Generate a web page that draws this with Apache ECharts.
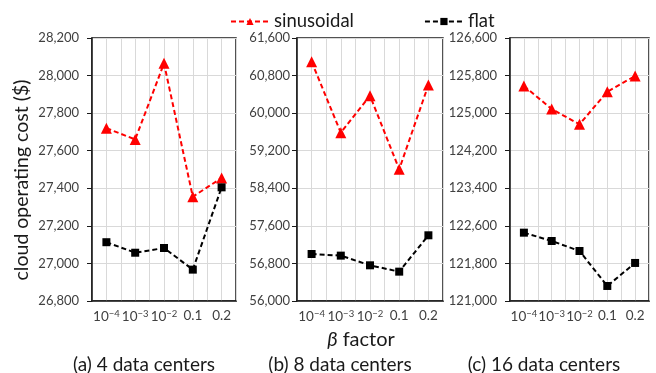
<!DOCTYPE html>
<html><head><meta charset="utf-8">
<script src="https://cdn.jsdelivr.net/npm/echarts@6/dist/echarts.min.js"></script>
<style>html,body{margin:0;padding:0;background:#fff}#c{width:656px;height:373px}</style>
</head><body><div id="c"></div>
<script>
// ---- data ----
const betaLabels = ['10^-4', '10^-3', '10^-2', '0.1', '0.2'];
const seriesNames = ['sinusoidal', 'flat'];
const panelTitles = ['(a) 4 data centers', '(b) 8 data centers', '(c) 16 data centers'];
const sinusoidal4 = [27720, 27660, 28065, 27355, 27455];
const flat4 = [27113, 27057, 27082, 26967, 27405];
const sinusoidal8 = [61096, 59584, 60372, 58804, 60600];
const flat8 = [57001, 56966, 56760, 56625, 57399];
const sinusoidal16 = [125578, 125088, 124762, 125457, 125791];
const flat16 = [122455, 122278, 122065, 121320, 121810];
const yMin = [26800, 56000, 121000];
const yMax = [28200, 61600, 126600];
const yStep = [200, 800, 800];
const yAxisTitle = 'cloud operating cost ($)';
const xAxisTitle = 'factor';

// ---- layout ----
const FONT = 'Lato';
const grids = [
  {left: 92, top: 38, width: 144, height: 263},
  {left: 297, top: 38, width: 146, height: 263},
  {left: 510, top: 38, width: 139, height: 263}
];
const labelMargins = [13, 7, 13];
const titleCenters = [144, 340, 544];
const sinData = [sinusoidal4, sinusoidal8, sinusoidal16];
const flatData = [flat4, flat8, flat16];

function fmtBeta(v) {
  if (v % 2 !== 1) return '';
  const s = betaLabels[(v - 1) / 2];
  if (s.indexOf('^') >= 0) {
    const p = s.split('^');
    return p[0] + '{s|' + p[1].replace('-', '\u2212') + '}';
  }
  return s;
}
const toXY = arr => arr.map((v, i) => [2 * i + 1, v]);

const xAxes = [], yAxes = [], series = [];
grids.forEach((g, k) => {
  g.show = true; g.borderColor = '#1a1a1a'; g.borderWidth = 1.5; g.containLabel = false;
  xAxes.push({
    type: 'value', gridIndex: k, min: 0, max: 10, interval: 1,
    axisLine: {show: true, onZero: false, lineStyle: {color: '#1a1a1a', width: 1.5}},
    axisTick: {show: false},
    splitLine: {show: true, lineStyle: {color: '#d9d9d9', width: 1}},
    axisLabel: {
      formatter: fmtBeta, margin: 8, color: '#404040', fontFamily: FONT, fontSize: 13.5,
      rich: {s: {fontSize: 9.5, fontFamily: FONT, color: '#404040', padding: [0, 0, 6, 0]}}
    }
  });
  yAxes.push({
    type: 'value', gridIndex: k, min: yMin[k], max: yMax[k], interval: yStep[k],
    axisLine: {show: true, lineStyle: {color: '#1a1a1a', width: 1.5}},
    axisTick: {show: true, length: 5, lineStyle: {color: '#1a1a1a', width: 1}},
    splitLine: {show: true, lineStyle: {color: '#d9d9d9', width: 1}},
    axisLabel: {
      margin: labelMargins[k], color: '#404040', fontFamily: FONT, fontSize: 13,
      formatter: v => v.toLocaleString('en-US')
    }
  });
  series.push({
    name: seriesNames[0], type: 'line', xAxisIndex: k, yAxisIndex: k,
    data: toXY(sinData[k]), symbol: 'triangle', symbolSize: 11,
    itemStyle: {color: '#ff0000'},
    lineStyle: {color: '#ff0000', width: 2, type: [5, 3]}, animation: false
  });
  series.push({
    name: seriesNames[1], type: 'line', xAxisIndex: k, yAxisIndex: k,
    data: toXY(flatData[k]), symbol: 'rect', symbolSize: 8,
    itemStyle: {color: '#000000'},
    lineStyle: {color: '#000000', width: 2, type: [5, 3]}, animation: false
  });
});

const graphics = [];
panelTitles.forEach((t, k) => {
  graphics.push({type: 'text', x: titleCenters[k], y: 365,
    style: {text: t, font: '19px ' + FONT, fill: '#1a1a1a', textAlign: 'center', textVerticalAlign: 'middle'}});
});
graphics.push({type: 'text', x: 22, y: 180, rotation: Math.PI / 2,
  style: {text: yAxisTitle, font: '19.5px ' + FONT, fill: '#1a1a1a', textAlign: 'center', textVerticalAlign: 'middle'}});
graphics.push({type: 'text', x: 361, y: 340,
  style: {text: '{b|\u03b2} ' + xAxisTitle, font: '20px ' + FONT, fill: '#1a1a1a', textAlign: 'center', textVerticalAlign: 'middle',
    rich: {b: {fontStyle: 'italic', fontFamily: FONT, fontSize: 20, fill: '#1a1a1a'}}}});

const chart = echarts.init(document.getElementById('c'), null, {renderer: 'canvas'});
chart.setOption({
  animation: false,
  backgroundColor: '#ffffff',
  legend: {
    data: seriesNames, left: 225, top: 7, itemWidth: 38, itemHeight: 9, itemGap: 70,
    textStyle: {fontFamily: FONT, fontSize: 18.5, color: '#1a1a1a'}
  },
  grid: grids,
  xAxis: xAxes,
  yAxis: yAxes,
  series: series,
  graphic: graphics
});
</script>
</body></html>
